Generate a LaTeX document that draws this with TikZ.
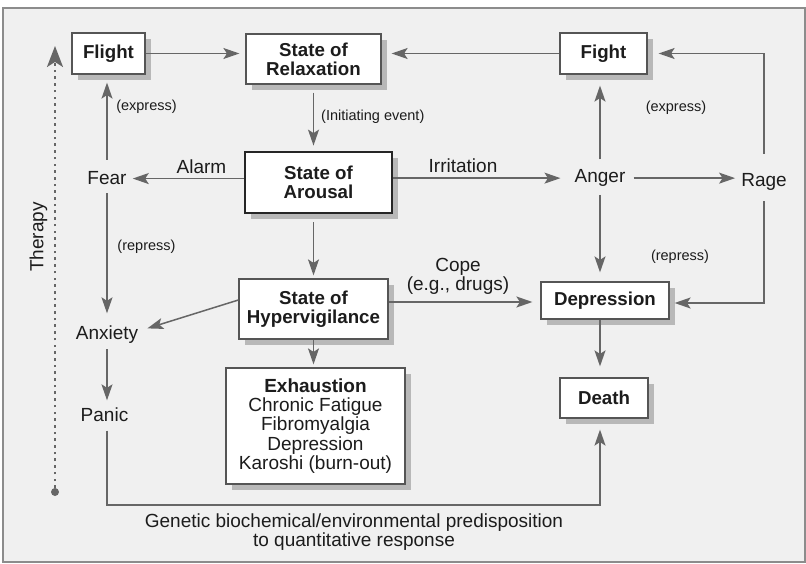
\documentclass[tikz,border=0pt]{standalone}
\usepackage{fontspec}
\setmainfont{Liberation Sans}
\usetikzlibrary{arrows.meta,shadows,calc}
\definecolor{panel}{HTML}{F0F0F0}
\definecolor{frame}{HTML}{8C8C8C}
\definecolor{wire}{HTML}{666666}
\definecolor{boxline}{HTML}{555555}
\definecolor{shade}{HTML}{B8B8B8}
\definecolor{ink}{HTML}{1C1C1C}

\begin{document}
\begin{tikzpicture}[x=1pt,y=-1pt,
  every node/.style={text=ink},
  box/.style={draw=boxline, fill=white, line width=1.2pt, inner sep=0pt, align=center,
    font=\fontsize{18.7}{19}\selectfont\bfseries,
    drop shadow={shadow xshift=6pt, shadow yshift=-6pt, fill=shade, opacity=1, draw=none}},
  term/.style={inner sep=0pt, font=\fontsize{19}{19.2}\selectfont, align=center},
  note/.style={inner sep=0pt, font=\fontsize{14.5}{16}\selectfont},
  tip/.style={-{Stealth[length=16pt,width=11pt,inset=3.5pt]}},
  bigtip/.style={-{Stealth[length=21pt,width=16pt,inset=5pt]}},
  link/.style={draw=wire, line width=1.5pt, tip},
  ]
% page and panel
\useasboundingbox (0,0) rectangle (806,564);
\fill[white] (0,0) rectangle (806,564);
\draw[frame, fill=panel, line width=1.5pt] (3,8) rectangle (805,562);

% boxes
\node[box, minimum width=73pt, minimum height=41pt] (flight) at (108.5,53.5) {Flight};
\node[box, minimum width=135pt, minimum height=50pt] (relax) at (313.5,59) {State of\\Relaxation};
\node[box, minimum width=87pt, minimum height=41pt] (fight) at (603.5,53.5) {Fight};
\node[box, minimum width=147pt, minimum height=61pt, line width=2.8pt, draw=black!85] (arousal) at (318.5,182.5) {State of\\Arousal};
\node[box, minimum width=149pt, minimum height=60pt] (hyper) at (313.5,309) {State of\\Hypervigilance};
\node[box, minimum width=179pt, minimum height=116pt, font=\fontsize{19}{19.2}\selectfont] (exhaust) at (315.5,426)
  {{\bfseries Exhaustion}\\Chronic Fatigue\\Fibromyalgia\\Depression\\Karoshi (burn-out)};
\node[box, minimum width=128pt, minimum height=37pt] (depression) at (605,300.5) {Depression};
\node[box, minimum width=88pt, minimum height=40pt] (death) at (604,398) {Death};

% emotion terms
\node[term, anchor=base] (fear) at (107,185) {Fear};
\node[term, anchor=base] (anger) at (600,182.7) {Anger};
\node[term, anchor=base] (rage) at (764,187) {Rage};
\node[term, anchor=base] (anxiety) at (107,339.3) {Anxiety};
\node[term, anchor=base] (panic) at (104.5,421.3) {Panic};

% connector labels
\node[term, anchor=base] (alarm) at (201.5,173.3) {Alarm};
\node[term, anchor=base] (irritation) at (463,172.7) {Irritation};
\node[note] (exprL) at (146.5,107) {(express)};
\node[note] (reprL) at (146.5,247) {(repress)};
\node[note] (exprR) at (676,108) {(express)};
\node[note] (reprR) at (680,257) {(repress)};
\node[note, anchor=west] (init) at (321,117) {(Initiating event)};
\node[term] (cope) at (458,276) {Cope\\(e.g., drugs)};
\node[term] (genetic) at (354,532) {Genetic biochemical/environmental predisposition\\to quantitative response};
\node[term, rotate=90] (therapy) at (38.5,237) {Therapy};

% therapy axis
\node[circle, fill=wire, inner sep=0pt, minimum size=8pt] (thdot) at (55,492) {};
\coordinate (thtop) at (55,46);
\draw[draw=wire, line width=2pt, dash pattern=on 2.6pt off 4.1pt, bigtip] (thdot) -- (thtop);

% connectors along the top row
\draw[link, shorten >=6pt] (flight) -- (relax.west |- flight);
\draw[link, shorten >=10pt] (fight) -- (relax.east |- fight);
\draw[link] ([yshift=20pt]rage.north) |- ([xshift=11pt]fight.east);

% from relaxation through arousal
\draw[link, shorten <=8pt, shorten >=5pt] (relax.south) -- (relax.south |- arousal.north);
\draw[link, shorten >=6pt] (arousal.west |- fear) -- (fear.east);
\draw[link, shorten >=14pt] (arousal.east |- anger) -- (anger.west);
\draw[link, shorten <=8pt, shorten >=3pt] (hyper.north |- arousal.south) -- (hyper.north);

% fear branch
\draw[link, shorten <=12pt, shorten >=8pt] (fear.north) -- (fear.north |- flight.south);
\draw[link, shorten <=8pt, shorten >=12pt] (fear.south) -- (fear.south |- anxiety.north);
\draw[link, shorten <=6pt, shorten >=7pt] (anxiety.south) -- (anxiety.south |- panic.north);

% anger branch
\draw[link, shorten <=10pt, shorten >=11pt] (anger.north) -- (anger.north |- fight.south);
\draw[link, shorten <=8pt, shorten >=6pt] (anger.east) -- (rage.west |- anger);
\draw[link, shorten <=8pt, shorten >=9pt] (anger.south) -- (anger.south |- depression.north);
\draw[link] ([yshift=-10pt]rage.south) |- ([xshift=5pt,yshift=-2.5pt]depression.east);

% hypervigilance outputs
\coordinate (copefrom) at ([yshift=7pt]hyper.east);
\draw[link] ([yshift=9pt]hyper.west) -- ([xshift=9pt,yshift=6pt]anxiety.east);
\draw[link, shorten >=8pt] (copefrom) -- (depression.west |- copefrom);
\draw[link, shorten >=3pt] (hyper.south) -- (hyper.south |- exhaust.north);

% depression to death, and the predisposition path
\draw[link, shorten >=11pt] (anger.south |- depression.south) -- (anger.south |- death.north);
\coordinate (floor) at (354,505);
\draw[link, shorten <=9pt, shorten >=11pt] (anxiety.south |- panic.south) |- (floor) -| (anger.south |- death.south);
\end{tikzpicture}
\end{document}
